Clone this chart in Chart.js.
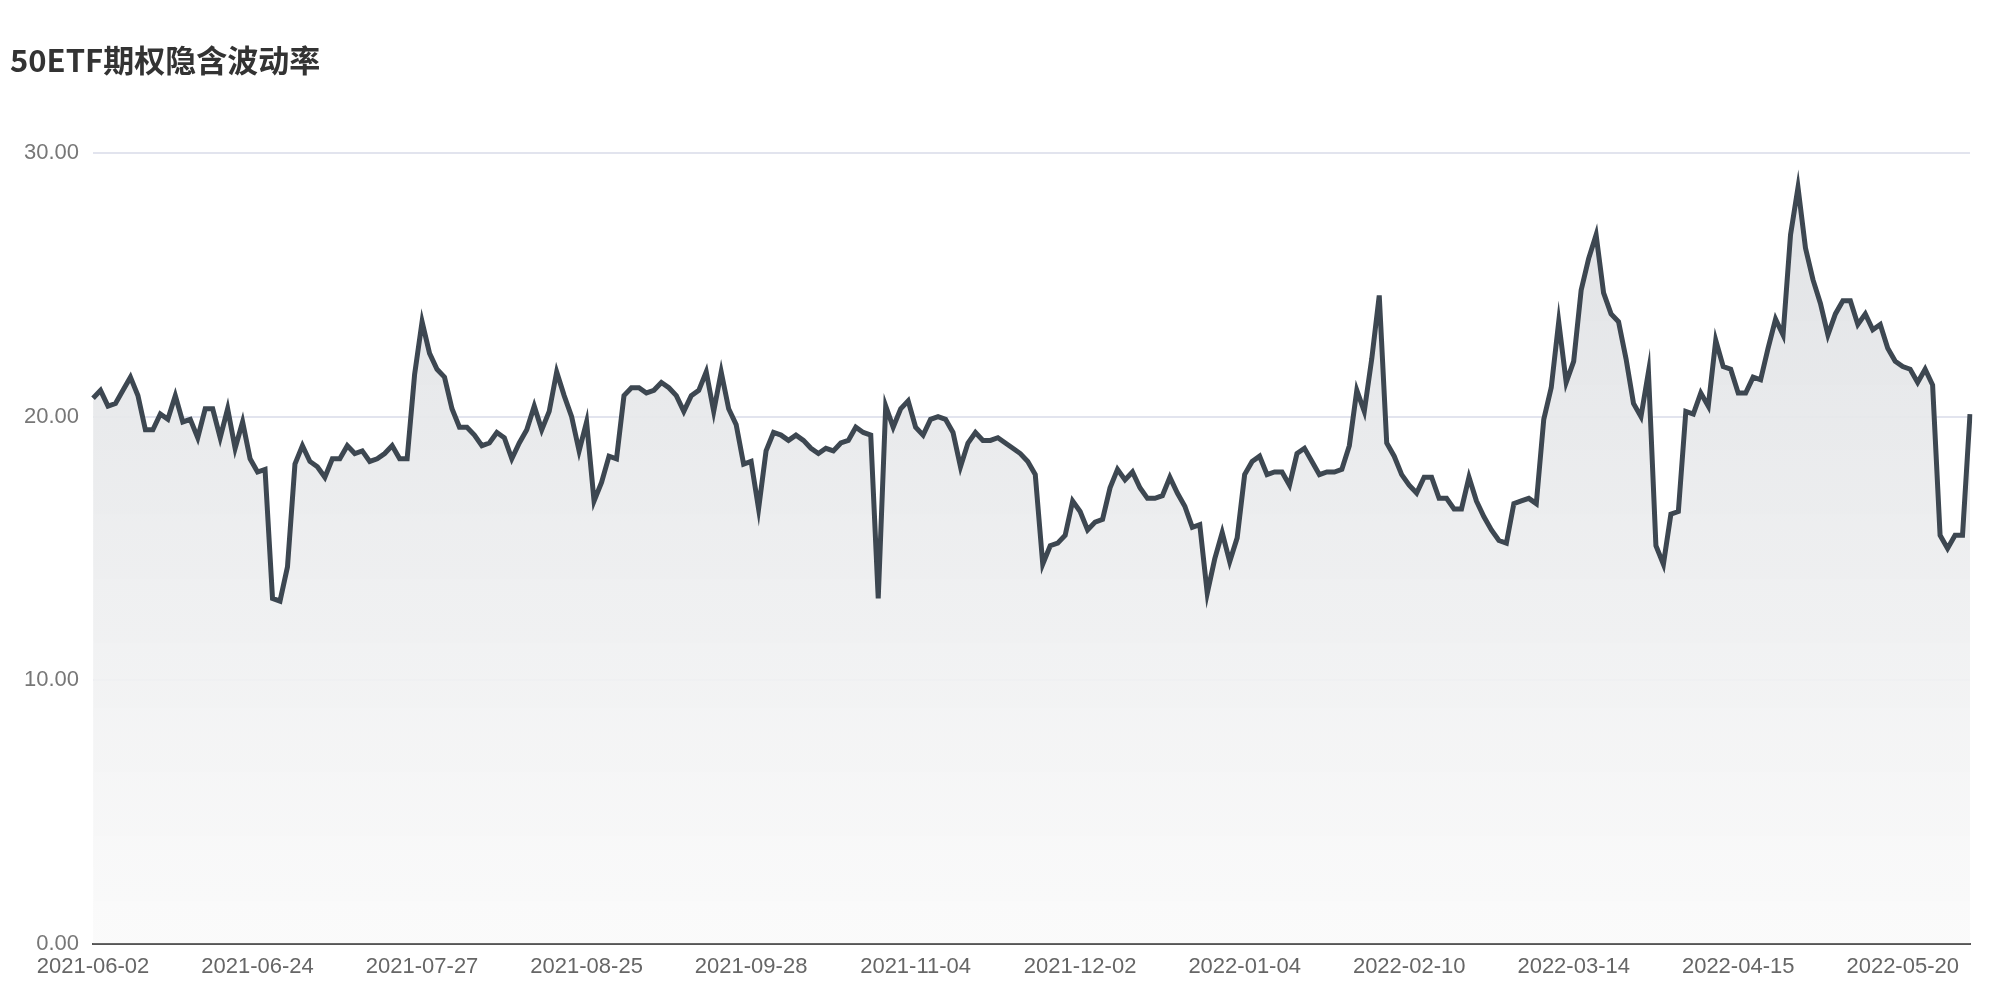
<!DOCTYPE html>
<html>
<head>
<meta charset="utf-8">
<script src="https://cdn.jsdelivr.net/npm/chart.js@4"></script>
<style>
  body { margin: 0; background: #fff; }
  #wrap { width: 2000px; height: 1000px; position: relative; }
</style>
</head>
<body>
<div id="wrap"><canvas id="ivChart"></canvas></div>
<script>
// shown x-axis dates
const tickLabels = ['2021-06-02', '2021-06-24', '2021-07-27', '2021-08-25', '2021-09-28', '2021-11-04',
    '2021-12-02', '2022-01-04', '2022-02-10', '2022-03-14', '2022-04-15', '2022-05-20'];

// implied volatility, one per trading day
const ivValues = [
    20.7, 21.0, 20.4, 20.5, 21.0, 21.5, 20.8, 19.5, 19.5, 20.1, 19.9, 20.8, 19.8, 19.9, 19.2, 20.3, 20.3, 19.2, 20.3, 18.8,
    19.8, 18.4, 17.9, 18.0, 13.1, 13.0, 14.3, 18.2, 18.9, 18.3, 18.1, 17.7, 18.4, 18.4, 18.9, 18.6, 18.7, 18.3, 18.4, 18.6,
    18.9, 18.4, 18.4, 21.6, 23.6, 22.4, 21.8, 21.5, 20.3, 19.6, 19.6, 19.3, 18.9, 19.0, 19.4, 19.2, 18.4, 19.0, 19.5, 20.4,
    19.5, 20.2, 21.7, 20.8, 20.0, 18.7, 19.8, 16.8, 17.5, 18.5, 18.4, 20.8, 21.1, 21.1, 20.9, 21.0, 21.3, 21.1, 20.8, 20.2,
    20.8, 21.0, 21.7, 20.2, 21.7, 20.3, 19.7, 18.2, 18.3, 16.5, 18.7, 19.4, 19.3, 19.1, 19.3, 19.1, 18.8, 18.6, 18.8, 18.7,
    19.0, 19.1, 19.6, 19.4, 19.3, 13.1, 20.4, 19.6, 20.3, 20.6, 19.6, 19.3, 19.9, 20.0, 19.9, 19.4, 18.1, 19.0, 19.4, 19.1,
    19.1, 19.2, 19.0, 18.8, 18.6, 18.3, 17.8, 14.4, 15.1, 15.2, 15.5, 16.8, 16.4, 15.7, 16.0, 16.1, 17.3, 18.0, 17.6, 17.9,
    17.3, 16.9, 16.9, 17.0, 17.7, 17.1, 16.6, 15.8, 15.9, 13.3, 14.6, 15.6, 14.5, 15.4, 17.8, 18.3, 18.5, 17.8, 17.9, 17.9,
    17.4, 18.6, 18.8, 18.3, 17.8, 17.9, 17.9, 18.0, 18.9, 21.0, 20.2, 22.2, 24.6, 19.0, 18.5, 17.8, 17.4, 17.1, 17.7, 17.7,
    16.9, 16.9, 16.5, 16.5, 17.7, 16.8, 16.2, 15.7, 15.3, 15.2, 16.7, 16.8, 16.9, 16.7, 19.9, 21.1, 23.6, 21.3, 22.1, 24.8,
    26.0, 26.9, 24.7, 23.9, 23.6, 22.2, 20.5, 20.0, 21.7, 15.1, 14.4, 16.3, 16.4, 20.2, 20.1, 20.9, 20.4, 22.9, 21.9, 21.8,
    20.9, 20.9, 21.5, 21.4, 22.6, 23.7, 23.1, 26.9, 28.7, 26.4, 25.2, 24.3, 23.1, 23.9, 24.4, 24.4, 23.5, 23.9, 23.3, 23.5,
    22.6, 22.1, 21.9, 21.8, 21.3, 21.8, 21.2, 15.5, 15.0, 15.5, 15.5, 20.1
];

const yTicks = [0, 10, 20, 30];

// one tick every ~127.6px out of a 1446px-wide plot in the reference
const tickEvery = Math.round((ivValues.length - 1) * 127.6 / 1446);

const ctx = document.getElementById('ivChart').getContext('2d');
const grad = ctx.createLinearGradient(0, 160, 0, 933);
grad.addColorStop(0, 'rgba(222,224,227,0.95)');
grad.addColorStop(1, 'rgba(250,250,250,0.9)');

new Chart(ctx, {
    type: 'line',
    data: {
        labels: ivValues.map((v, i) => i),
        datasets: [{
            data: ivValues,
            borderColor: '#3d4751',
            borderWidth: 5,
            backgroundColor: grad,
            fill: 'origin',
            pointRadius: 0,
            tension: 0
        }]
    },
    options: {
        responsive: true,
        maintainAspectRatio: false,
        animation: false,
        layout: { padding: { left: 10, right: 30, top: 0, bottom: 10 } },
        plugins: {
            legend: { display: false },
            tooltip: { enabled: false },
            title: {
                display: true,
                text: '50ETF期权隐含波动率',
                align: 'start',
                color: '#333',
                font: { family: 'Noto Sans CJK SC', size: 31, weight: 'bold' },
                padding: { top: 42, bottom: 74 }
            }
        },
        scales: {
            x: {
                offset: false,
                grid: { display: false, drawTicks: false },
                border: { color: '#555', width: 2 },
                ticks: {
                    autoSkip: false,
                    maxRotation: 0,
                    color: '#666',
                    font: { family: 'Liberation Sans', size: 22 },
                    padding: 10,
                    callback: (v, i) => (i % tickEvery === 0 && tickLabels[i / tickEvery]) ? tickLabels[i / tickEvery] : null
                }
            },
            y: {
                min: 0,
                max: 30,
                afterBuildTicks: axis => { axis.ticks = yTicks.map(v => ({ value: v })); },
                grid: { color: '#e2e4ee', lineWidth: 2, drawTicks: false },
                border: { display: false },
                ticks: {
                    color: '#777',
                    font: { family: 'Liberation Sans', size: 22 },
                    padding: 14,
                    callback: v => v.toFixed(2)
                }
            }
        }
    }
});
</script>
</body>
</html>
